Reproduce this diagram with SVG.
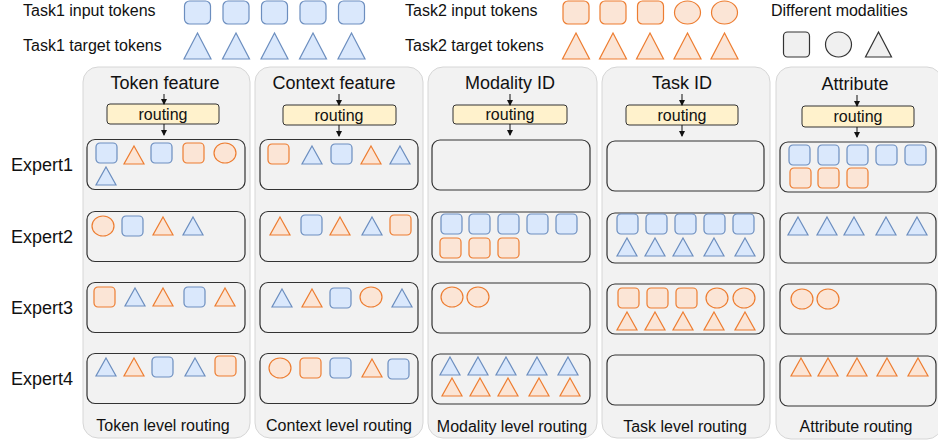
<svg xmlns="http://www.w3.org/2000/svg" xmlns:xlink="http://www.w3.org/1999/xlink" width="938" height="442" viewBox="0 0 938 442">
<style>
text{font-family:"Liberation Sans",Arial,sans-serif;fill:#111}
.lg{font-size:16px}
.t{font-size:18px;text-anchor:middle}
.r{font-size:16px;text-anchor:middle}
.panel{fill:#f2f2f2;stroke:#d6d6d6;stroke-width:1}
.exp{fill:none;stroke:#333;stroke-width:1.2}
.route{fill:#fff2cc;stroke:#333;stroke-width:1}
.b{fill:#dae8fc;stroke:#6c8ebf;stroke-width:1.2}
.o{fill:#fbe5d6;stroke:#ed7d31;stroke-width:1.2}
.g{fill:#f0f0f0;stroke:#333;stroke-width:1.2}
.conn line{stroke:#111;stroke-width:1}
</style>
<defs>
<rect id="sq" width="21" height="20" rx="4"/>
<path id="tri" d="M10,0 L20,18 L0,18 Z"/>
<ellipse id="ci" cx="11" cy="10" rx="11" ry="10"/>
<rect id="lsq" width="26" height="23" rx="5"/>
<path id="ltri" d="M13.5,0 L27,26 L0,26 Z"/>
<ellipse id="lci" cx="13" cy="11.5" rx="13" ry="11.5"/>
<marker id="ah" markerWidth="6" markerHeight="6" refX="5" refY="3" orient="auto" markerUnits="userSpaceOnUse"><path d="M0,0 L6,3 L0,6 Z" fill="#111"/></marker>
</defs>

<g id="legend">
<text class="lg" x="23" y="16">Task1 input tokens</text>
<text class="lg" x="23" y="51">Task1 target tokens</text>
<use href="#lsq" class="b" x="184.5" y="1"/><use href="#lsq" class="b" x="223" y="1"/><use href="#lsq" class="b" x="261.5" y="1"/><use href="#lsq" class="b" x="300" y="1"/><use href="#lsq" class="b" x="338.5" y="1"/>
<use href="#ltri" class="b" x="184" y="33"/><use href="#ltri" class="b" x="222.5" y="33"/><use href="#ltri" class="b" x="261" y="33"/><use href="#ltri" class="b" x="299.5" y="33"/><use href="#ltri" class="b" x="338" y="33"/>
<text class="lg" x="405" y="16">Task2 input tokens</text>
<text class="lg" x="405" y="51">Task2 target tokens</text>
<use href="#lsq" class="o" x="563" y="1"/><use href="#lsq" class="o" x="600" y="1"/><use href="#lsq" class="o" x="637.5" y="1"/><use href="#lci" class="o" x="674.5" y="1"/><use href="#lci" class="o" x="711.5" y="1"/>
<use href="#ltri" class="o" x="562.5" y="33"/><use href="#ltri" class="o" x="599.5" y="33"/><use href="#ltri" class="o" x="636.5" y="33"/><use href="#ltri" class="o" x="674" y="33"/><use href="#ltri" class="o" x="711" y="33"/>
<text class="lg" x="771" y="16">Different modalities</text>
<rect class="g" x="783.5" y="32" width="26" height="25" rx="4"/>
<ellipse class="g" cx="838.5" cy="44.5" rx="13" ry="12.5"/>
<path class="g" d="M878.5,32 L891.5,57 L865.5,57 Z"/>
</g>

<g id="labels">
<text class="t" x="42" y="171">Expert1</text>
<text class="t" x="42" y="243">Expert2</text>
<text class="t" x="42" y="314">Expert3</text>
<text class="t" x="42" y="385">Expert4</text>
</g>

<g id="col-token">
<rect class="panel" x="83" y="67" width="167" height="371" rx="15"/>
<text class="t" x="165" y="89">Token feature</text>
<rect class="route" x="107" y="104" width="112" height="20" rx="3"/>
<text class="r" x="163" y="120">routing</text>
<rect class="exp" x="87" y="139.5" width="158" height="50" rx="8"/>
<rect class="exp" x="87" y="211.5" width="158" height="50" rx="8"/>
<rect class="exp" x="87" y="282.5" width="158" height="50" rx="8"/>
<rect class="exp" x="87" y="353.5" width="158" height="50" rx="8"/>
<use href="#sq" class="b" x="96" y="143"/><use href="#tri" class="o" x="124" y="146"/><use href="#sq" class="b" x="151" y="143"/><use href="#sq" class="o" x="183" y="143"/><use href="#ci" class="o" x="214" y="143"/><use href="#tri" class="b" x="96" y="167"/>
<use href="#ci" class="o" x="92" y="216"/><use href="#sq" class="b" x="122" y="216"/><use href="#tri" class="o" x="153" y="217"/><use href="#tri" class="b" x="183" y="217"/>
<use href="#sq" class="o" x="94" y="287"/><use href="#tri" class="b" x="125" y="288"/><use href="#tri" class="o" x="153" y="288"/><use href="#sq" class="b" x="184" y="287"/><use href="#tri" class="o" x="215" y="288"/>
<use href="#tri" class="b" x="96" y="358"/><use href="#tri" class="o" x="124" y="358"/><use href="#sq" class="b" x="152" y="357"/><use href="#tri" class="b" x="185" y="358"/><use href="#sq" class="o" x="215" y="356"/>
<text class="r" x="163" y="431">Token level routing</text>
</g>

<g id="col-context">
<rect class="panel" x="255" y="67" width="168" height="371" rx="15"/>
<text class="t" x="334" y="89">Context feature</text>
<rect class="route" x="283" y="105" width="113" height="20" rx="3"/>
<text class="r" x="339" y="121">routing</text>
<rect class="exp" x="260" y="139.5" width="158" height="50" rx="8"/>
<rect class="exp" x="260" y="211.5" width="158" height="50" rx="8"/>
<rect class="exp" x="260" y="282.5" width="158" height="50" rx="8"/>
<rect class="exp" x="260" y="353.5" width="158" height="50" rx="8"/>
<use href="#sq" class="o" x="268" y="144"/><use href="#tri" class="b" x="302" y="146"/><use href="#sq" class="b" x="331" y="144"/><use href="#tri" class="o" x="361" y="146"/><use href="#tri" class="b" x="390" y="146"/>
<use href="#tri" class="o" x="270" y="217"/><use href="#sq" class="b" x="301" y="215"/><use href="#tri" class="o" x="330" y="217"/><use href="#tri" class="b" x="362" y="217"/><use href="#sq" class="o" x="390" y="215"/>
<use href="#tri" class="b" x="272" y="289"/><use href="#tri" class="o" x="302" y="289"/><use href="#sq" class="b" x="330" y="288"/><use href="#ci" class="o" x="360" y="287"/><use href="#tri" class="b" x="392" y="289"/>
<use href="#ci" class="o" x="269" y="358"/><use href="#sq" class="o" x="300" y="358"/><use href="#sq" class="b" x="330" y="358"/><use href="#tri" class="o" x="362" y="359"/><use href="#sq" class="b" x="388" y="359"/>
<text class="r" x="339" y="431">Context level routing</text>
</g>

<g id="col-modality">
<rect class="panel" x="428" y="67" width="169" height="371" rx="15"/>
<text class="t" x="510" y="89">Modality ID</text>
<rect class="route" x="453" y="105" width="114" height="19" rx="3"/>
<text class="r" x="510" y="120">routing</text>
<rect class="exp" x="432" y="140" width="158" height="50" rx="8"/>
<rect class="exp" x="432" y="212" width="158" height="50" rx="8"/>
<rect class="exp" x="432" y="283" width="158" height="50" rx="8"/>
<rect class="exp" x="432" y="354" width="158" height="50" rx="8"/>
<use href="#sq" class="b" x="441" y="214"/><use href="#sq" class="b" x="469" y="214"/><use href="#sq" class="b" x="498" y="214"/><use href="#sq" class="b" x="527" y="214"/><use href="#sq" class="b" x="556" y="214"/>
<use href="#sq" class="o" x="440" y="238"/><use href="#sq" class="o" x="469" y="238"/><use href="#sq" class="o" x="498" y="238"/>
<use href="#ci" class="o" x="441" y="287"/><use href="#ci" class="o" x="467" y="287"/>
<use href="#tri" class="b" x="440" y="357"/><use href="#tri" class="b" x="468" y="357"/><use href="#tri" class="b" x="496" y="357"/><use href="#tri" class="b" x="527" y="357"/><use href="#tri" class="b" x="558" y="357"/>
<use href="#tri" class="o" x="442" y="378"/><use href="#tri" class="o" x="470" y="378"/><use href="#tri" class="o" x="498" y="378"/><use href="#tri" class="o" x="529" y="378"/><use href="#tri" class="o" x="560" y="378"/>
<text class="r" x="512" y="432">Modality level routing</text>
</g>

<g id="col-task">
<rect class="panel" x="602" y="67" width="168" height="371" rx="15"/>
<text class="t" x="682" y="89">Task ID</text>
<rect class="route" x="626" y="105" width="112" height="20" rx="3"/>
<text class="r" x="682" y="121">routing</text>
<rect class="exp" x="607" y="141" width="157" height="50" rx="8"/>
<rect class="exp" x="607" y="213" width="157" height="50" rx="8"/>
<rect class="exp" x="607" y="284" width="157" height="50" rx="8"/>
<rect class="exp" x="607" y="355" width="157" height="50" rx="8"/>
<use href="#sq" class="b" x="617" y="214"/><use href="#sq" class="b" x="646" y="214"/><use href="#sq" class="b" x="675" y="214"/><use href="#sq" class="b" x="704" y="214"/><use href="#sq" class="b" x="733" y="214"/>
<use href="#tri" class="b" x="617" y="238"/><use href="#tri" class="b" x="645" y="238"/><use href="#tri" class="b" x="673" y="238"/><use href="#tri" class="b" x="704" y="238"/><use href="#tri" class="b" x="735" y="238"/>
<use href="#sq" class="o" x="618" y="288"/><use href="#sq" class="o" x="647" y="288"/><use href="#sq" class="o" x="676" y="288"/><use href="#ci" class="o" x="706" y="288"/><use href="#ci" class="o" x="733" y="288"/>
<use href="#tri" class="o" x="617" y="312"/><use href="#tri" class="o" x="645" y="312"/><use href="#tri" class="o" x="673" y="312"/><use href="#tri" class="o" x="704" y="312"/><use href="#tri" class="o" x="735" y="312"/>
<text class="r" x="685" y="432">Task level routing</text>
</g>

<g id="col-attribute">
<rect class="panel" x="776" y="67" width="166" height="372" rx="15"/>
<text class="t" x="855" y="90">Attribute</text>
<rect class="route" x="802" y="106" width="112" height="21" rx="3"/>
<text class="r" x="858" y="122">routing</text>
<rect class="exp" x="780" y="142" width="156" height="50" rx="8"/>
<rect class="exp" x="780" y="213" width="156" height="50" rx="8"/>
<rect class="exp" x="780" y="284" width="156" height="50" rx="8"/>
<rect class="exp" x="780" y="356" width="156" height="50" rx="8"/>
<use href="#sq" class="b" x="789" y="145"/><use href="#sq" class="b" x="818" y="145"/><use href="#sq" class="b" x="847" y="145"/><use href="#sq" class="b" x="876" y="145"/><use href="#sq" class="b" x="905" y="145"/>
<use href="#sq" class="o" x="790" y="168"/><use href="#sq" class="o" x="818" y="168"/><use href="#sq" class="o" x="847" y="168"/>
<use href="#tri" class="b" x="788" y="217"/><use href="#tri" class="b" x="817" y="217"/><use href="#tri" class="b" x="844" y="217"/><use href="#tri" class="b" x="876" y="217"/><use href="#tri" class="b" x="907" y="217"/>
<use href="#ci" class="o" x="791" y="289"/><use href="#ci" class="o" x="817" y="289"/>
<use href="#tri" class="o" x="791" y="358"/><use href="#tri" class="o" x="818" y="358"/><use href="#tri" class="o" x="847" y="358"/><use href="#tri" class="o" x="877" y="358"/><use href="#tri" class="o" x="908" y="358"/>
<text class="r" x="856" y="432">Attribute routing</text>
</g>

<g id="connectors" class="conn">
<line x1="164" y1="94" x2="164" y2="104" marker-end="url(#ah)"/>
<line x1="164" y1="124" x2="164" y2="135" marker-end="url(#ah)"/>
<line x1="339" y1="94" x2="339" y2="105" marker-end="url(#ah)"/>
<line x1="339" y1="125" x2="339" y2="136" marker-end="url(#ah)"/>
<line x1="510" y1="94" x2="510" y2="105" marker-end="url(#ah)"/>
<line x1="510" y1="124" x2="510" y2="135" marker-end="url(#ah)"/>
<line x1="682" y1="94" x2="682" y2="105" marker-end="url(#ah)"/>
<line x1="682" y1="125" x2="682" y2="136" marker-end="url(#ah)"/>
<line x1="857" y1="95" x2="857" y2="106" marker-end="url(#ah)"/>
<line x1="857" y1="127" x2="857" y2="137" marker-end="url(#ah)"/>
</g>
</svg>
